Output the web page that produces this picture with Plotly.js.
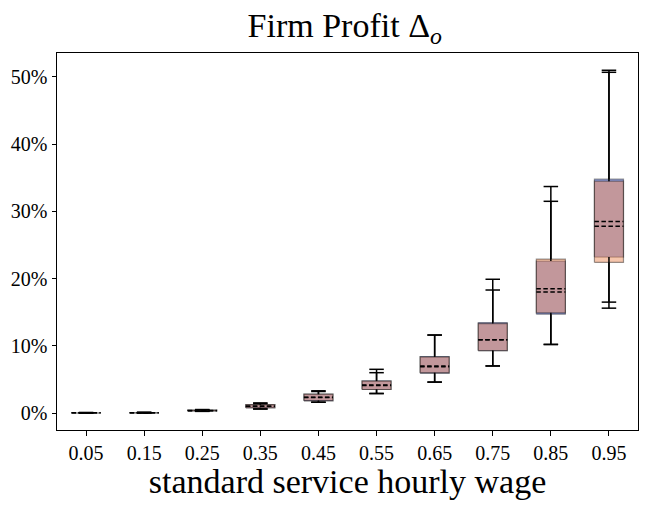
<!DOCTYPE html>
<html>
<head>
<meta charset="utf-8">
<script src="https://cdn.plot.ly/plotly-3.0.1.min.js"></script>
<style>
  body { margin: 0; background: #fff; }
  #myDiv { width: 648px; height: 505px; }
</style>
</head>
<body>
<div id="myDiv"></div>
<script>
// wage positions and their tick labels
const wages = [0.05, 0.15, 0.25, 0.35, 0.45, 0.55, 0.65, 0.75, 0.85, 0.95];
const wageLabels = ['0.05', '0.15', '0.25', '0.35', '0.45', '0.55', '0.65', '0.75', '0.85', '0.95'];
const profitTicks = [0, 10, 20, 30, 40, 50];
const profitLabels = ['0%', '10%', '20%', '30%', '40%', '50%'];

// series A (blue), percent values
const blueLow = [0.0, 0.0, 0.25, 0.6, 1.6, 2.9, 4.6, 7.0, 10.2, 16.5];
const blueQ1 = [0.0, 0.02, 0.3, 0.75, 1.8, 3.5, 5.9, 9.25, 14.7, 23.2];
const blueMed = [0.02, 0.05, 0.35, 1.0, 2.3, 4.15, 7.0, 10.9, 18.5, 28.5];
const blueQ3 = [0.04, 0.08, 0.42, 1.25, 2.8, 4.8, 8.4, 13.45, 22.6, 34.8];
const blueHigh = [0.06, 0.1, 0.5, 1.5, 3.3, 6.5, 11.6, 19.9, 31.5, 51.0];

// series B (orange)
const orangeLow = [0.0, 0.0, 0.25, 0.6, 1.6, 2.9, 4.6, 7.0, 10.2, 15.6];
const orangeQ1 = [0.0, 0.02, 0.3, 0.78, 1.85, 3.5, 6.0, 9.3, 14.9, 22.4];
const orangeMed = [0.02, 0.05, 0.36, 1.02, 2.35, 4.1, 6.9, 10.9, 18.0, 27.8];
const orangeQ3 = [0.04, 0.08, 0.42, 1.25, 2.8, 4.75, 8.35, 13.3, 22.9, 34.5];
const orangeHigh = [0.06, 0.1, 0.5, 1.4, 3.2, 6.0, 11.6, 18.3, 33.7, 50.7];

const boxHalf = 0.025;
const capHalf = 0.0125;

function boxTraces(low, q1, med, q3, high, fill) {
  let bx = [], by = [], wx = [], wy = [], cx = [], cy = [], mx = [], my = [];
  wages.forEach((x, i) => {
    bx.push(x - boxHalf, x + boxHalf, x + boxHalf, x - boxHalf, x - boxHalf, null);
    by.push(q1[i], q1[i], q3[i], q3[i], q1[i], null);
    wx.push(x, x, null, x, x, null);
    wy.push(q1[i], low[i], null, q3[i], high[i], null);
    cx.push(x - capHalf, x + capHalf, null, x - capHalf, x + capHalf, null);
    cy.push(low[i], low[i], null, high[i], high[i], null);
    mx.push(x - boxHalf, x + boxHalf, null);
    my.push(med[i], med[i], null);
  });
  return {
    body: {
      x: bx, y: by, type: 'scatter', mode: 'lines', fill: 'toself',
      fillcolor: fill, line: {color: 'rgba(0,0,0,0.4)', width: 1.2},
      hoverinfo: 'skip', showlegend: false
    },
    rest: [
      {x: wx, y: wy, type: 'scatter', mode: 'lines',
        line: {color: '#000000', width: 1.5}, hoverinfo: 'skip', showlegend: false},
      {x: cx, y: cy, type: 'scatter', mode: 'lines',
        line: {color: '#000000', width: 1.5}, hoverinfo: 'skip', showlegend: false},
      {x: mx, y: my, type: 'scatter', mode: 'lines',
        line: {color: '#000000', width: 1.5, dash: '4.5px,2.5px'}, hoverinfo: 'skip', showlegend: false}
    ]
  };
}

const blue = boxTraces(blueLow, blueQ1, blueMed, blueQ3, blueHigh, 'rgba(50,70,185,0.5)');
const orange = boxTraces(orangeLow, orangeQ1, orangeMed, orangeQ3, orangeHigh, 'rgba(235,140,90,0.5)');

const traces = [blue.body, orange.body, ...blue.rest, ...orange.rest];

const serif = 'Liberation Serif, DejaVu Serif, serif';

const layout = {
  width: 648,
  height: 505,
  margin: {l: 57, r: 10, t: 53, b: 75},
  paper_bgcolor: '#ffffff',
  plot_bgcolor: '#ffffff',
  font: {family: serif, color: '#000000'},
  title: {
    text: 'Firm Profit Δ<sub><i>o</i></sub>',
    font: {family: serif, size: 34, color: '#000000'},
    x: 0.532, xanchor: 'center',
    y: 0.95, yanchor: 'middle', yref: 'container'
  },
  xaxis: {
    range: [0, 1],
    tickmode: 'array',
    tickvals: wages,
    ticktext: wageLabels,
    showgrid: false,
    zeroline: false,
    showline: true,
    mirror: true,
    linecolor: '#000000',
    linewidth: 1,
    ticks: 'outside',
    ticklen: 4.5,
    tickwidth: 1,
    tickcolor: '#000000',
    tickfont: {family: serif, size: 20},
    title: {text: 'standard service hourly wage', font: {family: serif, size: 34}, standoff: 6}
  },
  yaxis: {
    range: [-2.53, 53.57],
    tickmode: 'array',
    tickvals: profitTicks,
    ticktext: profitLabels,
    showgrid: false,
    zeroline: false,
    showline: true,
    mirror: true,
    linecolor: '#000000',
    linewidth: 1,
    ticks: 'outside',
    ticklen: 4.5,
    tickwidth: 1,
    tickcolor: '#000000',
    tickfont: {family: serif, size: 20}
  }
};

Plotly.newPlot('myDiv', traces, layout, {displayModeBar: false, staticPlot: true});
</script>
</body>
</html>
